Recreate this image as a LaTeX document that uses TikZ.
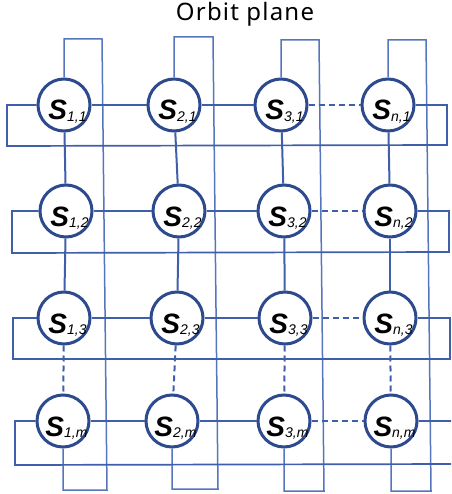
\documentclass[tikz,border=0pt]{standalone}
\usepackage{fontspec}
\setmainfont{Liberation Sans}
\newfontfamily\titlefont[LetterSpace=5]{Noto Sans}
\definecolor{satblue}{HTML}{2E4A8E}
\definecolor{linkblue}{HTML}{3F5FAA}
\definecolor{wrapblue}{HTML}{5575BD}
\tikzset{
  sat/.style={circle,draw=satblue,line width=3pt,fill=white,minimum size=52pt,inner sep=0pt},
  lab/.style={anchor=base,inner sep=0pt,font=\itshape},
  link/.style={draw=linkblue,line width=2pt},
  dlink/.style={draw=linkblue,line width=2pt,dash pattern=on 6pt off 4pt},
  wrap/.style={draw=linkblue,line width=1.7pt},
  vwrap/.style={draw=wrapblue,line width=1.5pt},
}
\newcommand{\satlab}[1]{{\bfseries\fontsize{28}{28}\selectfont S}\raisebox{-1.5pt}{\fontsize{14}{14}\selectfont #1}}
\begin{document}
\begin{tikzpicture}[x=1pt,y=-1pt]
\useasboundingbox (0,0) rectangle (451,494);
\clip (0,0) rectangle (451,494);
\node[anchor=base,inner sep=0pt,font=\titlefont\fontsize{24}{24}\selectfont] (title) at (245,21) {Orbit plane};
% wrap coordinates
\coordinate (t1) at (102,39);  \coordinate (b1) at (107,490);
\coordinate (t2) at (213,37);  \coordinate (b2) at (218,489);
\coordinate (t3) at (319,40);  \coordinate (b3) at (324,491);
\coordinate (tn) at (426,40);  \coordinate (bn) at (431,491);
\coordinate (l1) at (7,146);   \coordinate (r1) at (447,145);
\coordinate (l2) at (12,253);  \coordinate (r2) at (449,252);
\coordinate (l3) at (13,359);  \coordinate (r3) at (450,359);
\coordinate (lm) at (15,465);  \coordinate (rm) at (453,464);
% column wrap lines
\foreach \c/\x/\y in {1/64/105,2/174/105,3/281/105,n/388/105}{
  \coordinate (top\c) at (\x,\y);
}
% satellites
\foreach \nm/\x/\y/\txt in {s11/64/105/{1,1}, s21/174/105/{2,1}, s31/281/105/{3,1}, sn1/388/105/{n,1},
                       s12/66/211/{1,2}, s22/179/211/{2,2}, s32/284/211/{3,2}, sn2/390/211/{n,2},
                       s13/64/318/{1,3}, s23/177/318/{2,3}, s33/285/318/{3,3}, sn3/390/318/{n,3},
                       s1m/63/421/{1,m}, s2m/172/421/{2,m}, s3m/284/421/{3,m}, snm/391/421/{n,m}}
  {\node[sat] (\nm) at (\x,\y) {};
   \node[lab] (\nm lab) at ([xshift=3.5pt,yshift=-15pt]\nm.center) {\satlab{\txt}};}
\foreach \c in {1,2,3,n}{
  \draw[vwrap] (s\c 1.north) |- (t\c) -- (b\c) -| (s\c m.south);
}
% row wrap lines
\foreach \r in {1,2,3,m}{
  \draw[wrap] (s1\r.west) -| (l\r) -- (r\r) |- (sn\r.east);
}
% horizontal links
\foreach \r in {1,2,3,m}{
  \draw[link] (s1\r) -- (s2\r);
  \draw[link] (s2\r) -- (s3\r);
  \draw[dlink] (s3\r) -- (sn\r);
}
% vertical links
\foreach \c in {1,2,3,n}{
  \draw[link] (s\c 1) -- (s\c 2);
  \draw[link] (s\c 2) -- (s\c 3);
  \draw[dlink] (s\c 3) -- (s\c m);
}
\end{tikzpicture}
\end{document}
